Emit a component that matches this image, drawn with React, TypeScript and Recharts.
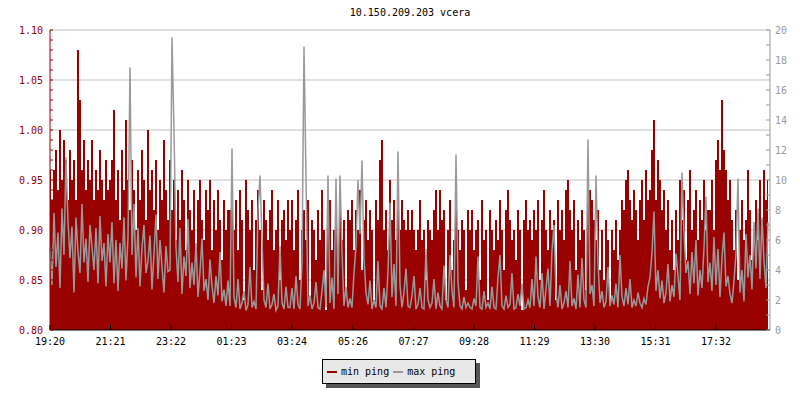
import { Area, CartesianGrid, ComposedChart, Legend, Line, XAxis, YAxis } from 'recharts';

const FONT = "'DejaVu Sans Mono', monospace";
const RED = '#990000';
const GRAY = '#999999';

// one sample every 4 minutes, starting 19:20
const stepMinutes = 4;

const tickMinutes = [0, 121, 242, 363, 484, 606, 727, 848, 969, 1090, 1211, 1332];
const tickLabels = ['19:20', '21:21', '23:22', '01:23', '03:24', '05:26', '07:27', '09:28', '11:29', '13:30', '15:31', '17:32'];

const leftTicks = [
  0.8, 0.81, 0.82, 0.83, 0.84, 0.85, 0.86, 0.87, 0.88, 0.89, 0.9, 0.91, 0.92, 0.93, 0.94, 0.95,
  0.96, 0.97, 0.98, 0.99, 1.0, 1.01, 1.02, 1.03, 1.04, 1.05, 1.06, 1.07, 1.08, 1.09, 1.1
];
const leftGrid = [0.85, 0.9, 0.95, 1.0, 1.05, 1.1];
const rightTicks = [0, 1, 2, 3, 4, 5, 6, 7, 8, 9, 10, 11, 12, 13, 14, 15, 16, 17, 18, 19, 20];
const legendOrder = ['min ping', 'max ping'];

// min ping (ms), left axis
const minPing = [
  0.96, 0.93, 0.96, 0.98, 0.94, 1.0, 0.95, 0.99, 0.97, 0.93, 0.98, 0.95, 0.97, 0.93, 1.08, 1.03, 0.96, 0.99, 0.94, 0.97, 0.95, 0.99, 0.93, 0.96, 0.94, 0.98, 0.95, 0.93, 0.97, 0.94,
  0.95, 0.97, 1.02, 0.93, 0.96, 0.91, 0.98, 0.94, 1.01, 0.95, 0.92, 0.97, 0.94, 0.9, 0.96, 0.93, 0.98, 0.95, 0.91, 1.0, 0.94, 0.96, 0.92, 0.97, 0.9, 0.95, 0.93, 0.99, 0.94, 0.91,
  0.97, 0.92, 0.95, 0.89, 0.94, 0.91, 0.96, 0.93, 0.88, 0.95, 0.92, 0.9, 0.94, 0.87, 0.93, 0.95, 0.91, 0.89, 0.94, 0.92, 0.95, 0.88, 0.93, 0.9, 0.94, 0.91, 0.87, 0.93, 0.9, 0.92,
  0.92, 0.95, 0.9, 0.93, 0.88, 0.94, 0.91, 0.83, 0.95, 0.92, 0.9, 0.93, 0.86, 0.91, 0.94, 0.9, 0.84, 0.93, 0.91, 0.89, 0.92, 0.94, 0.88, 0.9, 0.93, 0.85, 0.91, 0.92, 0.89, 0.93,
  0.9, 0.93, 0.88, 0.91, 0.94, 0.85, 0.9, 0.92, 0.89, 0.93, 0.83, 0.91, 0.9, 0.87, 0.92, 0.89, 0.94, 0.9, 0.82, 0.91, 0.93, 0.88, 0.9, 0.92, 0.86, 0.94, 0.89, 0.91, 0.84, 0.92,
  0.91, 0.93, 0.88, 0.92, 0.9, 0.94, 0.86, 0.91, 0.93, 0.89, 0.92, 0.9, 0.83, 0.93, 0.91, 0.97, 0.99, 0.9, 0.92, 0.88, 0.95, 0.91, 0.93, 0.89, 0.92, 0.9, 0.93, 0.91, 0.9, 0.92,
  0.9, 0.92, 0.9, 0.88, 0.9, 0.93, 0.89, 0.9, 0.85, 0.91, 0.9, 0.89, 0.92, 0.94, 0.9, 0.94, 0.91, 0.92, 0.83, 0.9, 0.93, 0.86, 0.89, 0.92, 0.9, 0.88, 0.91, 0.9, 0.84, 0.92,
  0.9, 0.92, 0.88, 0.9, 0.91, 0.85, 0.93, 0.89, 0.9, 0.83, 0.92, 0.9, 0.88, 0.91, 0.89, 0.93, 0.9, 0.86, 0.92, 0.94, 0.91, 0.89, 0.9, 0.87, 0.92, 0.9, 0.82, 0.91, 0.93, 0.9,
  0.91, 0.89, 0.92, 0.9, 0.93, 0.85, 0.91, 0.94, 0.9, 0.88, 0.92, 0.9, 0.91, 0.83, 0.93, 0.9, 0.92, 0.89, 0.94, 0.95, 0.92, 0.9, 0.93, 0.86, 0.91, 0.89, 0.92, 0.9, 0.84, 0.93,
  0.94, 0.93, 0.91, 0.89, 0.92, 0.86, 0.9, 0.85, 0.91, 0.89, 0.83, 0.9, 0.88, 0.91, 0.87, 0.9, 0.93, 0.92, 0.95, 0.96, 0.93, 0.91, 0.94, 0.92, 0.89, 0.93, 0.95, 0.91, 0.96, 0.93,
  0.94, 0.98, 1.01, 0.93, 0.97, 0.95, 0.92, 0.94, 0.9, 0.93, 0.88, 0.91, 0.86, 0.92, 0.89, 0.95, 0.91, 0.94, 0.87, 0.93, 0.96, 0.9, 0.92, 0.94, 0.89, 0.93, 0.91, 0.95, 0.9, 0.92,
  0.92, 0.95, 0.9, 0.97, 0.99, 0.96, 1.03, 0.98, 0.96, 0.93, 0.95, 0.91, 0.88, 0.92, 0.85, 0.9, 0.93, 0.89, 0.91, 0.96, 0.92, 0.87, 0.9, 0.93, 0.89, 0.95, 0.91, 0.96, 0.93, 0.95
];

// max ping (ms), right axis
const maxPing = [
  5.5, 3.0, 7.8, 4.2, 6.5, 2.8, 8.1, 5.0, 11.5, 7.2, 4.8, 6.9, 2.5, 7.5, 5.2, 3.8, 8.4, 4.5, 6.1, 3.2, 7.0, 5.5, 4.0, 6.8, 3.1, 7.6, 4.6, 5.8, 2.9, 6.4,
  4.5, 7.2, 3.1, 6.0, 2.6, 5.8, 4.1, 7.5, 3.3, 6.2, 17.5, 5.0, 8.4, 3.5, 6.8, 2.9, 5.5, 7.0, 3.8, 4.6, 6.3, 2.7, 5.1, 7.7, 3.4, 6.0, 4.2, 2.5, 5.6, 3.9,
  4.0, 19.5, 13.3, 5.5, 3.2, 6.8, 2.4, 4.9, 3.6, 7.4, 2.8, 4.5, 3.0, 5.8, 2.2, 3.9, 6.1, 2.6, 3.4, 2.0, 4.7, 2.9, 1.8, 3.6, 2.3, 5.2, 1.9, 2.7, 1.6, 3.3,
  1.6, 12.1, 2.2, 1.5, 3.4, 1.4, 1.8, 2.6, 1.3, 1.7, 4.2, 1.5, 1.9, 1.4, 7.9, 10.3, 6.1, 2.0, 1.5, 3.1, 1.4, 1.7, 2.4, 1.3, 1.6, 5.6, 1.8, 1.4, 2.9, 1.5,
  1.5, 2.8, 1.4, 3.6, 1.7, 1.4, 4.5, 18.9, 10.1, 1.6, 2.3, 1.4, 1.8, 3.2, 1.5, 1.4, 2.6, 4.0, 1.5, 10.3, 1.8, 3.5, 1.4, 10.1, 2.4, 10.3, 5.2, 1.6, 2.9, 1.5,
  2.1, 1.5, 3.8, 5.6, 10.0, 6.4, 11.3, 4.8, 2.5, 1.7, 3.3, 1.4, 2.0, 1.5, 4.6, 1.6, 1.4, 2.8, 1.5, 3.9, 8.5, 2.2, 4.4, 1.6, 11.9, 3.0, 1.5, 2.5, 4.1, 1.6,
  1.5, 2.3, 3.6, 1.4, 1.7, 2.8, 1.5, 1.4, 5.4, 2.0, 1.5, 1.8, 3.4, 1.4, 2.5, 1.6, 1.4, 4.3, 2.0, 1.5, 5.0, 2.6, 1.5, 11.7, 3.2, 1.6, 1.4, 2.2, 1.5, 1.8,
  1.5, 1.4, 2.1, 1.6, 4.9, 1.5, 1.4, 2.6, 1.5, 1.8, 1.4, 2.9, 1.5, 1.4, 3.5, 5.0, 1.6, 1.4, 2.3, 1.5, 1.7, 3.8, 1.4, 1.5, 2.4, 1.6, 3.1, 1.4, 1.5, 2.0,
  1.5, 3.4, 1.6, 4.9, 2.2, 1.5, 3.8, 1.4, 2.7, 4.1, 1.6, 5.3, 7.0, 2.4, 1.5, 3.0, 1.4, 1.8, 2.6, 1.5, 4.6, 1.6, 2.1, 1.4, 3.7, 1.5, 4.8, 2.0, 1.5, 12.7,
  2.4, 3.0, 1.6, 10.3, 4.5, 1.8, 2.6, 1.5, 1.9, 4.2, 1.6, 2.3, 1.7, 3.1, 1.5, 5.0, 2.2, 1.6, 2.8, 1.7, 3.4, 1.5, 2.0, 1.6, 2.5, 1.8, 1.5, 2.1, 1.7, 2.9,
  3.5, 5.2, 7.9, 2.6, 4.0, 2.1, 3.3, 1.8, 2.5, 4.4, 1.9, 3.0, 2.2, 5.1, 3.6, 2.0, 10.5, 6.5, 3.8, 4.6, 2.4, 5.2, 3.1, 6.0, 2.3, 4.0, 2.8, 5.5, 8.9, 3.2,
  4.5, 2.6, 6.2, 3.0, 5.4, 2.2, 4.8, 6.5, 2.9, 3.6, 2.4, 1.8, 3.3, 5.1, 10.1, 2.5, 4.0, 1.9, 6.4, 3.5, 5.0, 2.7, 7.2, 4.1, 8.1, 3.4, 7.5, 4.6, 2.8, 7.2
];

const data = minPing.map((v, i) => ({ t: i * stepMinutes, min: v, max: maxPing[i] }));

function LeftTick({ x, y, payload }: any) {
  const hundredths = Math.round(payload.value * 100);
  return (
    <g>
      <line x1={x} x2={x + 3} y1={y} y2={y} stroke={RED} />
      {hundredths % 5 === 0 && (
        <text x={x - 7} y={y + 4} textAnchor="end" fill={RED} fontSize={10} fontFamily={FONT}>
          {payload.value.toFixed(2)}
        </text>
      )}
    </g>
  );
}

function RightTick({ x, y, payload }: any) {
  return (
    <g>
      <line x1={x - 4} x2={x} y1={y} y2={y} stroke={GRAY} />
      {payload.value % 2 === 0 && (
        <text x={x + 5} y={y + 4} textAnchor="start" fill={GRAY} fontSize={10} fontFamily={FONT}>
          {payload.value}
        </text>
      )}
    </g>
  );
}

function TimeTick({ x, y, payload }: any) {
  const label = tickLabels[tickMinutes.indexOf(payload.value)];
  return (
    <g>
      <line x1={x} x2={x} y1={y} y2={y - 5} stroke="#000" />
      <text x={x} y={y + 15} textAnchor="middle" fill="#000" fontSize={10} fontFamily={FONT}>
        {label}
      </text>
    </g>
  );
}

function PingLegend({ payload }: any) {
  const items = [...(payload || [])].sort(
    (a: any, b: any) => legendOrder.indexOf(a.value) - legendOrder.indexOf(b.value)
  );
  return (
    <div
      style={{
        display: 'flex',
        alignItems: 'center',
        boxSizing: 'border-box',
        width: 154,
        height: 25,
        paddingLeft: 4,
        background: '#e8e8e8',
        border: '1px solid #000',
        boxShadow: '4px 4px 0 #555',
        fontFamily: FONT,
        fontSize: 10
      }}
    >
      {items.map((entry: any) => (
        <span key={entry.value} style={{ display: 'flex', alignItems: 'center', marginRight: 4 }}>
          <span style={{ display: 'inline-block', width: 10, height: 2, background: entry.color, marginRight: 4 }} />
          <span style={{ color: '#000' }}>{entry.value}</span>
        </span>
      ))}
    </div>
  );
}

export default function App() {
  return (
    <div style={{ position: 'absolute', left: 0, top: 0, width: 800, height: 400, background: '#fff' }}>
      <div
        style={{
          position: 'absolute',
          left: 50,
          top: 7,
          width: 720,
          textAlign: 'center',
          fontFamily: FONT,
          fontSize: 10,
          lineHeight: '12px',
          color: '#000'
        }}
      >
        10.150.209.203 vcera
      </div>
      <ComposedChart width={800} height={400} data={data} margin={{ top: 30, right: 0, bottom: 40, left: 0 }}>
        <CartesianGrid yAxisId="left" vertical={false} horizontalValues={leftGrid} stroke="#c0c0c0" />
        <XAxis
          dataKey="t"
          type="number"
          domain={[0, 1440]}
          ticks={tickMinutes}
          interval={0}
          height={30}
          tickSize={0}
          tickMargin={0}
          tickLine={false}
          axisLine={{ stroke: '#000' }}
          tick={<TimeTick />}
        />
        <YAxis
          yAxisId="left"
          orientation="left"
          width={50}
          type="number"
          domain={[0.8, 1.1]}
          allowDataOverflow
          ticks={leftTicks}
          interval={0}
          tickSize={0}
          tickMargin={0}
          tickLine={false}
          axisLine={{ stroke: RED }}
          tick={<LeftTick />}
        />
        <YAxis
          yAxisId="right"
          orientation="right"
          width={30}
          type="number"
          domain={[0, 20]}
          allowDataOverflow
          ticks={rightTicks}
          interval={0}
          tickSize={0}
          tickMargin={0}
          tickLine={false}
          axisLine={{ stroke: GRAY }}
          tick={<RightTick />}
        />
        <Area
          yAxisId="left"
          type="step"
          dataKey="min"
          name="min ping"
          stroke={RED}
          strokeWidth={0}
          fill={RED}
          fillOpacity={1}
          baseValue={0.8}
          dot={false}
          activeDot={false}
          shapeRendering="crispEdges"
          isAnimationActive={false}
        />
        <Line
          yAxisId="right"
          type="linear"
          dataKey="max"
          name="max ping"
          stroke={GRAY}
          strokeWidth={1.5}
          dot={false}
          activeDot={false}
          isAnimationActive={false}
        />
        <Legend
          layout="horizontal"
          verticalAlign="middle"
          align="center"
          wrapperStyle={{ left: 322, top: 359, bottom: 'auto', width: 'auto' }}
          content={<PingLegend />}
        />
      </ComposedChart>
    </div>
  );
}
